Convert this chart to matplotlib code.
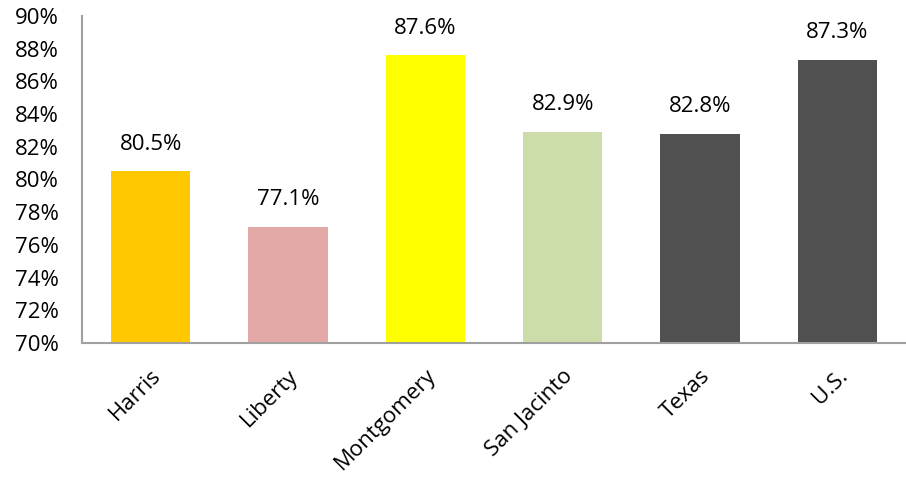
import matplotlib
matplotlib.use("Agg")
import matplotlib.pyplot as plt
from matplotlib.ticker import FuncFormatter

categories = ["Harris", "Liberty", "Montgomery", "San Jacinto", "Texas", "U.S."]
values = [80.5, 77.1, 87.6, 82.9, 82.8, 87.3]
colors = ["#FFC800", "#E2A8A6", "#FFFF00", "#CCDDAA", "#505050", "#505050"]
yticks = list(range(70, 91, 2))

plt.rcParams['font.family'] = ['Open Sans', 'DejaVu Sans']
FS = 16

fig = plt.figure(figsize=(9.06, 4.83), dpi=100)
ax = fig.add_axes([0.0905, 0.29, 0.9095, 0.677])

x = list(range(len(categories)))
ax.bar(x, values, width=0.58, color=colors, bottom=0)
ax.set_ylim(70, 90)
ax.set_xlim(-0.5, len(categories) - 0.5)
ax.set_yticks(yticks)
ax.yaxis.set_major_formatter(FuncFormatter(lambda v, p: f"{v:.0f}%"))
ax.tick_params(axis='y', length=0, labelsize=FS, pad=17)
ax.tick_params(axis='x', length=0, labelsize=FS, pad=16)
ax.set_xticks(x)
ax.set_xticklabels(categories, rotation=45, ha='right', va='top', rotation_mode='anchor')

for s in ['top', 'right']:
    ax.spines[s].set_visible(False)
for s in ['left', 'bottom']:
    ax.spines[s].set_color('#A0A0A0')
    ax.spines[s].set_linewidth(1.5)

for xi, v in zip(x, values):
    ax.annotate(f"{v:.1f}%", (xi, v), xytext=(0, 12), textcoords='offset points',
                ha='center', va='bottom', fontsize=FS)

fig.savefig("out.png", dpi=100)
